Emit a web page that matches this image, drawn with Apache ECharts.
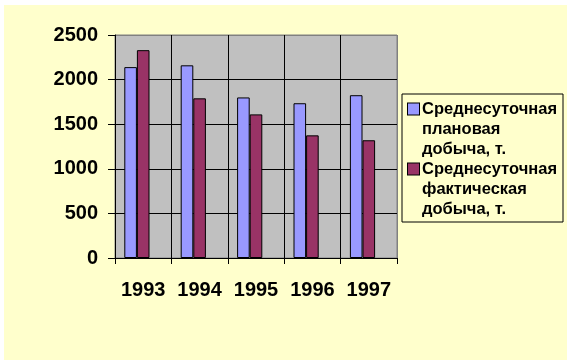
<!DOCTYPE html>
<html>
<head>
<meta charset="utf-8">
<script src="https://cdn.jsdelivr.net/npm/echarts@6/dist/echarts.min.js"></script>
<style>
html,body{margin:0;padding:0;background:#ffffff;}
#bg{position:absolute;left:4px;top:5px;width:563px;height:355px;background:#FFFFCC;}
#c{position:absolute;left:0;top:0;width:571px;height:363px;}
</style>
</head>
<body>
<div id="bg"></div>
<div id="c"></div>
<script>
const years = ['1993', '1994', '1995', '1996', '1997'];
const planName = 'Среднесуточная плановая добыча, т.';
const factName = 'Среднесуточная фактическая добыча, т.';
const planValues = [2140, 2160, 1800, 1735, 1825];
const factValues = [2330, 1790, 1610, 1375, 1320];
const yTicks = [0, 500, 1000, 1500, 2000, 2500];

const FONT = '"Liberation Sans", Arial, sans-serif';
const chart = echarts.init(document.getElementById('c'), null, {renderer: 'canvas'});

const swatch = (color) => ({width: 11, height: 11, lineHeight: 20, backgroundColor: color, borderColor: '#000', borderWidth: 1});
const txt = {fontFamily: FONT, fontWeight: 'bold', fontSize: 16.5, color: '#000', lineHeight: 20, padding: [0, 0, 0, 3], width: 136};

chart.setOption({
  backgroundColor: 'transparent',
  animation: false,
  grid: {
    left: 115, top: 35, width: 282, height: 223,
    show: true, backgroundColor: '#C0C0C0', borderColor: '#808080', borderWidth: 1
  },
  xAxis: {
    type: 'category',
    data: years,
    boundaryGap: true,
    axisLine: {show: true, lineStyle: {color: '#000', width: 1}},
    axisTick: {show: true, interval: 0, length: 6, lineStyle: {color: '#000'}},
    splitLine: {show: true, interval: 0, lineStyle: {color: ['#000', '#000', '#000', '#000', '#000', '#808080'], width: 1}},
    axisLabel: {interval: 0, hideOverlap: false, fontFamily: FONT, fontWeight: 'bold', fontSize: 20, color: '#000', margin: 22}
  },
  yAxis: {
    type: 'value',
    min: yTicks[0], max: yTicks[yTicks.length - 1], interval: 500,
    axisLine: {show: true, lineStyle: {color: '#000', width: 1}},
    axisTick: {show: true, length: 7, lineStyle: {color: '#000'}},
    splitLine: {show: true, lineStyle: {color: ['#000', '#000', '#000', '#000', '#000', '#808080'], width: 1}},
    axisLabel: {fontFamily: FONT, fontWeight: 'bold', fontSize: 20, color: '#000', margin: 17,
      formatter: function (v) { return String(v); }}
  },
  legend: {
    orient: 'vertical',
    left: 402, top: 94,
    padding: [5, 5, 3, 1],
    itemGap: 0,
    itemWidth: 0, itemHeight: 0,
    icon: 'rect',
    itemStyle: {opacity: 0, borderWidth: 0},
    borderColor: '#000', borderWidth: 1,
    backgroundColor: 'transparent',
    selectedMode: false,
    data: [planName, factName],
    textStyle: {
      color: '#000',
      lineHeight: 20,
      rich: {
        a: swatch('#9999FF'),
        b: swatch('#993366'),
        s: {width: 11, height: 11, lineHeight: 20},
        t: txt
      }
    },
    formatter: function (name) {
      const parts = name.split(' ');
      const key = name === planName ? 'a' : 'b';
      return '{' + key + '|}{t|' + parts[0] + '}\n{s|}{t|' + parts[1] + '}\n{s|}{t|' + parts[2] + ' ' + parts[3] + '}';
    }
  },
  series: [
    {
      name: planName, type: 'bar', data: planValues,
      barWidth: 12.6, barGap: '0%',
      itemStyle: {color: '#9999FF', borderColor: '#000', borderWidth: 1}
    },
    {
      name: factName, type: 'bar', data: factValues,
      barWidth: 12.6, barGap: '0%',
      itemStyle: {color: '#993366', borderColor: '#000', borderWidth: 1}
    },
    {
      name: 'spacer', type: 'bar', data: [],
      barWidth: 12.6, barGap: '0%', silent: true
    }
  ]
});
</script>
</body>
</html>
